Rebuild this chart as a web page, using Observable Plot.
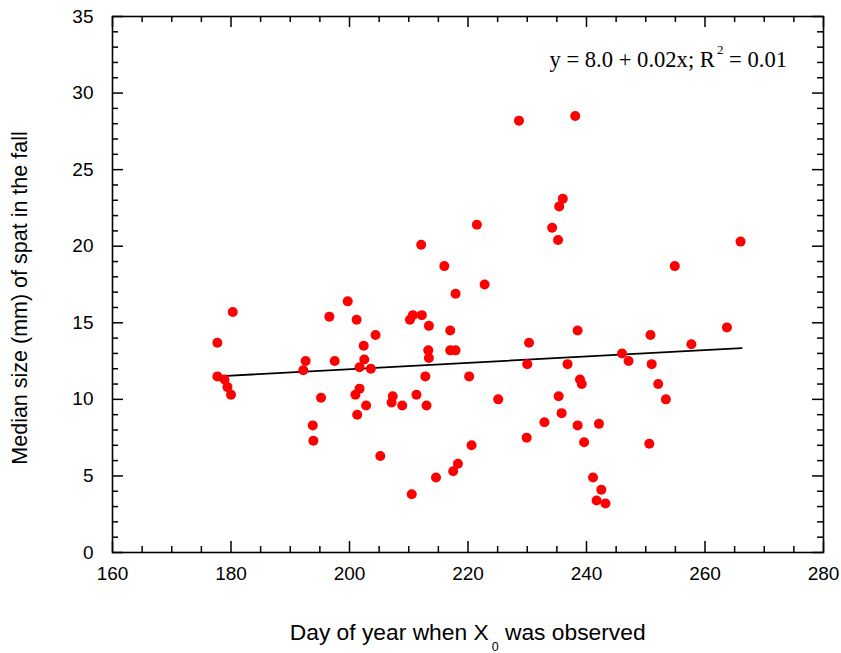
<!DOCTYPE html>
<html>
<head>
<meta charset="utf-8">
<script src="https://cdn.jsdelivr.net/npm/d3@7"></script>
<script src="https://cdn.jsdelivr.net/npm/@observablehq/plot@0.6"></script>
<style>
  html, body { margin: 0; padding: 0; background: #fff; }
</style>
</head>
<body>
<div id="chart"></div>
<script>
// Day of year when X0 was observed
const dayOfYear = [
  177.7, 180.3, 177.7, 178.9, 179.4, 180.0, 192.6, 192.2, 193.8, 193.9,
  195.2, 196.6, 197.5, 199.7, 201.2, 202.4, 202.5, 201.7, 203.6, 204.4,
  201.7, 201.0, 202.8, 201.3, 205.2, 207.3, 207.1, 208.9, 210.2, 210.7,
  212.2, 213.4, 213.3, 213.4, 212.8, 211.3, 213.0, 210.5, 214.6, 217.0,
  217.0, 217.9, 217.9, 220.2, 220.6, 217.5, 218.3, 222.8, 225.1, 212.1,
  216.0, 221.5, 228.6, 238.1, 236.0, 235.4, 234.2, 235.2, 266.0, 254.9,
  230.3, 230.0, 229.9, 232.9, 235.3, 235.8, 236.8, 238.5, 238.9, 239.2,
  238.5, 242.1, 239.6, 241.1, 242.5, 241.7, 243.2, 246.0, 247.1, 250.8,
  251.0, 252.1, 253.4, 250.6, 257.7, 263.7
];
// Median size (mm) of spat in the fall
const medianSize = [
  13.7, 15.7, 11.5, 11.3, 10.8, 10.3, 12.5, 11.9, 8.3, 7.3,
  10.1, 15.4, 12.5, 16.4, 15.2, 13.5, 12.6, 12.1, 12.0, 14.2,
  10.7, 10.3, 9.6, 9.0, 6.3, 10.2, 9.8, 9.6, 15.2, 15.5,
  15.5, 14.8, 13.2, 12.7, 11.5, 10.3, 9.6, 3.8, 4.9, 14.5,
  13.2, 13.2, 16.9, 11.5, 7.0, 5.3, 5.8, 17.5, 10.0, 20.1,
  18.7, 21.4, 28.2, 28.5, 23.1, 22.6, 21.2, 20.4, 20.3, 18.7,
  13.7, 12.3, 7.5, 8.5, 10.2, 9.1, 12.3, 14.5, 11.3, 11.0,
  8.3, 8.4, 7.2, 4.9, 4.1, 3.4, 3.2, 13.0, 12.5, 14.2,
  12.3, 11.0, 10.0, 7.1, 13.6, 14.7
];
// Fitted regression line end points (y = 8.0 + 0.02x)
const fitX = [178.5, 266.2];
const fitY = [11.52, 13.35];

// Tick values
const xMajor = [160, 180, 200, 220, 240, 260, 280];
const xMinor = [165, 170, 175, 185, 190, 195, 205, 210, 215, 225, 230, 235, 245, 250, 255, 265, 270, 275];
const yMajor = [0, 5, 10, 15, 20, 25, 30, 35];
const yMinor = [1, 2, 3, 4, 6, 7, 8, 9, 11, 12, 13, 14, 16, 17, 18, 19, 21, 22, 23, 24, 26, 27, 28, 29, 31, 32, 33, 34];

const points = dayOfYear.map((x, i) => ({x, y: medianSize[i]}));
const fit = fitX.map((x, i) => ({x, y: fitY[i]}));

const W = 841, H = 653;
const mL = 112, mR = 18, mT = 16, mB = 101;
const fw = W - mL - mR, fh = H - mT - mB;
const major = 11, minor = 6;
const sans = "'Liberation Sans', Arial, Helvetica, sans-serif";

const chart = Plot.plot({
  width: W,
  height: H,
  marginLeft: mL,
  marginRight: mR,
  marginTop: mT,
  marginBottom: mB,
  style: {fontFamily: sans, background: "#fff", color: "#000"},
  x: {domain: [160, 280]},
  y: {domain: [0, 35]},
  marks: [
    // inward ticks, bottom & top
    Plot.ruleX(xMajor, {insetTop: fh - major, stroke: "#000", strokeWidth: 1.5}),
    Plot.ruleX(xMajor, {insetBottom: fh - major, stroke: "#000", strokeWidth: 1.5}),
    Plot.ruleX(xMinor, {insetTop: fh - minor, stroke: "#000", strokeWidth: 1.5}),
    Plot.ruleX(xMinor, {insetBottom: fh - minor, stroke: "#000", strokeWidth: 1.5}),
    // inward ticks, left & right
    Plot.ruleY(yMajor, {insetRight: fw - major, stroke: "#000", strokeWidth: 1.5}),
    Plot.ruleY(yMajor, {insetLeft: fw - major, stroke: "#000", strokeWidth: 1.5}),
    Plot.ruleY(yMinor, {insetRight: fw - minor, stroke: "#000", strokeWidth: 1.5}),
    Plot.ruleY(yMinor, {insetLeft: fw - minor, stroke: "#000", strokeWidth: 1.5}),
    Plot.frame({stroke: "#000", strokeWidth: 1.6}),
    Plot.axisX({ticks: xMajor, tickSize: 0, tickPadding: 14, label: null, fontSize: 19, fontFamily: sans}),
    Plot.axisY({ticks: yMajor, tickSize: 0, tickPadding: 19, label: null, fontSize: 19, fontFamily: sans}),
    Plot.line(fit, {x: "x", y: "y", stroke: "#000", strokeWidth: 1.8}),
    Plot.dot(points, {x: "x", y: "y", r: 5, fill: "#ff0000", stroke: "none"})
  ]
});

const svg = d3.select(chart);

// Y axis title
svg.append("text")
  .attr("transform", "translate(27,298) rotate(-90)")
  .attr("text-anchor", "middle")
  .attr("font-family", sans)
  .attr("font-size", 21.5)
  .attr("fill", "#000")
  .text("Median size (mm) of spat in the fall");

// X axis title with subscript
const xt = svg.append("text")
  .attr("x", 467.7)
  .attr("y", 640)
  .attr("text-anchor", "middle")
  .attr("font-family", sans)
  .attr("font-size", 22.8)
  .attr("fill", "#000");
xt.append("tspan").text("Day of year when X");
xt.append("tspan").attr("font-size", 12.5).attr("dx", 3).attr("dy", 11).text("0");
xt.append("tspan").attr("dy", -11).text(" was observed");

// Regression equation with superscript
const eq = svg.append("text")
  .attr("x", 787)
  .attr("y", 67.3)
  .attr("text-anchor", "end")
  .attr("font-family", "'Liberation Serif', 'Times New Roman', serif")
  .attr("font-size", 22.6)
  .attr("fill", "#000");
eq.append("tspan").text("y = 8.0 + 0.02x; R");
eq.append("tspan").attr("font-size", 13).attr("dx", 2).attr("dy", -13).text("2");
eq.append("tspan").attr("dy", 13).text(" = 0.01");

document.getElementById("chart").appendChild(chart);
</script>
</body>
</html>
